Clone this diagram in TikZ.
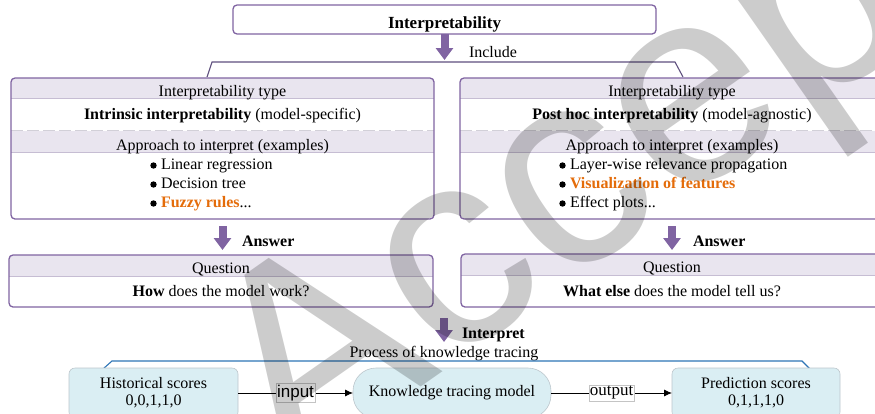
\documentclass[tikz,border=0pt]{standalone}
\usepackage{fontspec}
\setmainfont{Liberation Serif}
\newfontfamily\sansface{Liberation Sans}
\usetikzlibrary{arrows.meta,calc}
\definecolor{boxpurple}{HTML}{8064A2}
\definecolor{bandlav}{HTML}{E9E5EF}
\definecolor{seplav}{HTML}{C6BDD3}
\definecolor{dashgray}{HTML}{D2D0D8}
\definecolor{hiorange}{HTML}{E46C0A}
\definecolor{bracketpurple}{HTML}{5E4F7E}
\definecolor{bracketblue}{HTML}{2C74B5}
\definecolor{ktfill}{HTML}{DAEEF3}
\definecolor{ktborder}{HTML}{BCC6CC}
\definecolor{tagborder}{HTML}{C4C4C4}
\begin{document}
\begin{tikzpicture}[x=1pt,y=-1pt,
  every node/.style={inner sep=0pt, outer sep=0pt},
  txt/.style={font=\fontsize{16}{17}\selectfont, anchor=base},
  item/.style={font=\fontsize{16}{17}\selectfont, anchor=base west},
  dot/.style={fill=black},
  frame/.style={draw=boxpurple, line width=1.3pt, rounded corners=4pt},
  band/.style={fill=bandlav},
  sepline/.style={draw=seplav, line width=0.8pt},
  dashline/.style={draw=dashgray, line width=1pt, dash pattern=on 12pt off 4pt},
  blockarrow/.style={draw=boxpurple, line width=8pt, -{Triangle[width=17pt,length=12pt]}},
  kbox/.style={draw=ktborder, fill=ktfill, line width=0.6pt, rounded corners=6pt,
    minimum height=50pt, align=center, font=\fontsize{16}{16.7}\selectfont},
  flow/.style={draw=black, line width=0.8pt, -{Latex[length=8pt,width=7pt]}},
  tag/.style={fill=white, draw=tagborder, line width=0.4pt, inner xsep=1pt, inner ysep=1.5pt},
  wmark/.style={font=\sansface\fontsize{280}{280}\selectfont, text=black, opacity=0.2}
]
\useasboundingbox (0,0) rectangle (875,413);
\clip (0,0) rectangle (875,413);

% ---------- title ----------
\node[frame, minimum width=423pt, minimum height=29pt] (top) at (444.5,19.5) {};
\node[txt, font=\bfseries\fontsize{17}{18}\selectfont] (toptext) at (444.5,28) {Interpretability};
\draw[blockarrow] (top.south) -- ++(0,26);
\node[txt, anchor=base west] (include) at (469,57.5) {Include};

% bracket joining the two kinds
\coordinate (incA) at (207,77);
\coordinate (incB) at (212,62);
\coordinate (incC) at (675,62);
\coordinate (incD) at (683,77);
\draw[bracketpurple, line width=1.1pt] (incA) -- (incB) -- (incC) -- (incD);

% ---------- left kind ----------
\begin{scope}
  \clip[rounded corners=4pt] (11,78) rectangle (434,219);
  \fill[band] (11,78) rectangle (434,98);
  \fill[band] (11,131) rectangle (434,152);
\end{scope}
\draw[sepline] (11,98) -- (434,98);
\draw[dashline] (11,130.5) -- (434,130.5);
\draw[sepline] (11,152) -- (434,152);
\node[frame, minimum width=423pt, minimum height=141pt] (intr) at (222.5,148.5) {};
\node[txt] (intrType) at (222.5,96.5) {Interpretability type};
\node[txt] (intrName) at (222.5,119.5) {\textbf{Intrinsic interpretability} (model-specific)};
\node[txt] (intrAppr) at (222.5,150) {Approach to interpret (examples)};
\fill[dot] (153.5,165.5) circle (3.2pt);
\fill[dot] (153.5,184.5) circle (3.2pt);
\fill[dot] (153.5,203.5) circle (3.2pt);
\node[item] (intrA) at (161,169.5) {Linear regression};
\node[item] (intrB) at (161,188.5) {Decision tree};
\node[item] (intrC) at (161,207.5) {\textcolor{hiorange}{\textbf{Fuzzy rules}}...};

% ---------- right kind ----------
\begin{scope}
  \clip[rounded corners=4pt] (460,78) rectangle (884,219);
  \fill[band] (460,78) rectangle (884,98);
  \fill[band] (460,131) rectangle (884,152);
\end{scope}
\draw[sepline] (460,98) -- (884,98);
\draw[dashline] (460,130.5) -- (884,130.5);
\draw[sepline] (460,152) -- (884,152);
\node[frame, minimum width=424pt, minimum height=141pt] (post) at (672,148.5) {};
\node[txt] (postType) at (672,96.5) {Interpretability type};
\node[txt] (postName) at (672,119.5) {\textbf{Post hoc interpretability} (model-agnostic)};
\node[txt] (postAppr) at (672,150) {Approach to interpret (examples)};
\fill[dot] (562.5,165.5) circle (3.2pt);
\fill[dot] (562.5,184.5) circle (3.2pt);
\fill[dot] (562.5,203.5) circle (3.2pt);
\node[item] (postA) at (570,169.5) {Layer-wise relevance propagation};
\node[item] (postB) at (570,188.5) {\textcolor{hiorange}{\textbf{Visualization of features}}};
\node[item] (postC) at (570,207.5) {Effect plots...};

% ---------- answers ----------
\draw[blockarrow] ($(intr.south)+(0,7)$) -- ++(0,24);
\node[txt, anchor=base west, font=\bfseries\fontsize{16}{17}\selectfont] (ansL) at (242,246.5) {Answer};
\draw[blockarrow] ($(post.south)+(0,7)$) -- ++(0,24);
\node[txt, anchor=base west, font=\bfseries\fontsize{16}{17}\selectfont] (ansR) at (693,246.5) {Answer};

% left question
\begin{scope}
  \clip[rounded corners=4pt] (9,255) rectangle (433,307);
  \fill[band] (9,255) rectangle (433,276);
\end{scope}
\draw[sepline] (9,276) -- (433,276);
\node[frame, minimum width=424pt, minimum height=52pt] (qL) at (221,281) {};
\node[txt] (qLhead) at (221,273) {Question};
\node[txt] (qLtext) at (221,296) {\textbf{How} does the model work?};

% right question
\begin{scope}
  \clip[rounded corners=4pt] (461,254) rectangle (884,307);
  \fill[band] (461,254) rectangle (884,275);
\end{scope}
\draw[sepline] (461,275) -- (884,275);
\node[frame, minimum width=423pt, minimum height=53pt] (qR) at (672.5,280.5) {};
\node[txt] (qRhead) at (672,272.5) {Question};
\node[txt] (qRtext) at (672,296) {\textbf{What else} does the model tell us?};

% ---------- knowledge tracing ----------
\coordinate (interpTop) at (444,318);
\draw[blockarrow] (interpTop) -- ++(0,24);
\node[txt, anchor=base west, font=\bfseries\fontsize{16}{17}\selectfont] (interp) at (462,338) {Interpret};
\node[txt] (proc) at (444,357) {Process of knowledge tracing};

\coordinate (ktA) at (103,369);
\coordinate (ktB) at (112,361);
\coordinate (ktC) at (802,361);
\coordinate (ktD) at (810,369);
\draw[bracketblue, line width=1.1pt] (ktA) -- (ktB) -- (ktC) -- (ktD);

\node[kbox, minimum width=169pt] (hist) at (153.5,393) {Historical scores\\0,0,1,1,0};
\node[kbox, minimum width=198pt, rounded corners=23pt] (kt) at (452,393) {Knowledge tracing model};
\node[kbox, minimum width=168pt] (pred) at (756,393) {Prediction scores\\0,1,1,1,0};

\draw[flow] (hist) -- node[tag, font=\sansface\fontsize{17}{18}\selectfont] (inTag) {input} (kt);
\draw[flow] (kt) -- node[tag, font=\fontsize{17}{18}\selectfont] (outTag) {output} (pred);

% ---------- overprint ----------
\node[wmark, rotate=35, anchor=base west] (stamp) at (290,478) {Accepted};
\end{tikzpicture}
\end{document}
